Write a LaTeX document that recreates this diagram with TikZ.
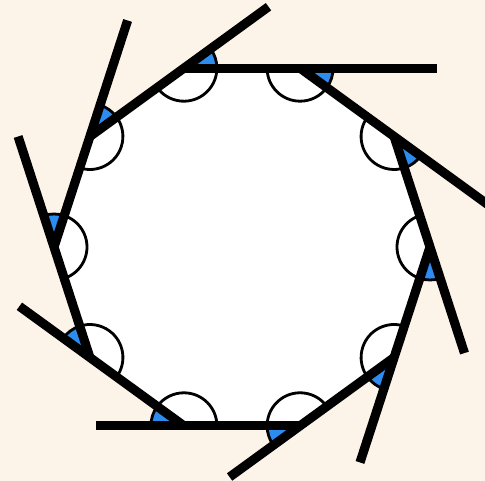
\documentclass[tikz,border=0pt]{standalone}
\usepackage{xcolor}
\definecolor{PaperCream}{RGB}{253,244,233}
\definecolor{AngleBlue}{RGB}{45,140,240}
\usepackage{tikz}
\usetikzlibrary{calc}

\begin{document}
\begin{tikzpicture}[
  side/.style={line width=5.2pt, color=black},
  arcline/.style={line width=1.6pt, draw=black},
  extang/.style={arcline, fill=AngleBlue},
  intang/.style={arcline, fill=white}
]
  % background
  \path[use as bounding box, fill=PaperCream] (0,0) rectangle (9.7,9.62);
  \coordinate (o) at (4.84,4.68);
  \foreach \k in {0,...,9}
    \coordinate (v\k) at ($(o)+({108-36*\k}:3.76)$);
  % decagon
  \fill[white] (v0) -- (v1) -- (v2) -- (v3) -- (v4) -- (v5) -- (v6) -- (v7) -- (v8) -- (v9) -- cycle;
  % angle marks
  \foreach \k in {0,...,9}{
    \pgfmathsetmacro{\th}{36-36*\k}
    \filldraw[intang] (v\k) -- ++({\th-180}:0.66) arc[start angle={\th-180}, end angle={\th-36}, radius=0.66] -- cycle;
    \filldraw[extang] (v\k) -- ++({\th-36}:0.66) arc[start angle={\th-36}, end angle={\th}, radius=0.66] -- cycle;
  }
  % extended sides
  \foreach \k/\f in {0/2.18, 1/2.0, 2/1.96, 3/1.95, 4/1.75, 5/1.76, 6/1.75, 7/2.0, 8/2.05, 9/1.9}{
    \pgfmathtruncatemacro{\n}{mod(\k+1,10)}
    \draw[side] (v\k) -- ($(v\k)!\f!(v\n)$);
  }
\end{tikzpicture}
\end{document}
